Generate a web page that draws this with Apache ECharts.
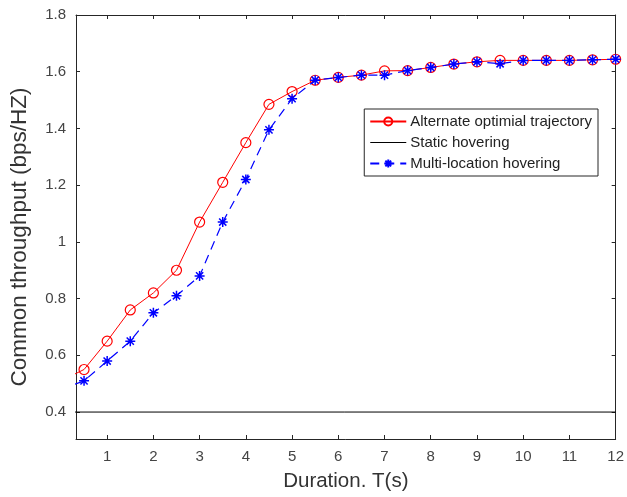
<!DOCTYPE html>
<html>
<head>
<meta charset="utf-8">
<script src="https://cdn.jsdelivr.net/npm/echarts@6/dist/echarts.min.js"></script>
<style>html,body{margin:0;padding:0;background:#fff;}#c{width:627px;height:497px;}</style>
</head>
<body>
<div id="c"></div>
<script>
const durations = [0, 0.5, 1, 1.5, 2, 2.5, 3, 3.5, 4, 4.5, 5, 5.5, 6, 6.5, 7, 7.5, 8, 8.5, 9, 9.5, 10, 10.5, 11, 11.5, 12];
const alternateOptimal = [0.51, 0.55, 0.65, 0.76, 0.82, 0.90, 1.07, 1.21, 1.35, 1.485, 1.53, 1.57, 1.58, 1.588, 1.603, 1.604, 1.615, 1.627, 1.635, 1.64, 1.64, 1.64, 1.64, 1.642, 1.644];
const multiLocation = [0.48, 0.51, 0.58, 0.65, 0.75, 0.81, 0.88, 1.07, 1.22, 1.395, 1.505, 1.57, 1.58, 1.588, 1.588, 1.604, 1.615, 1.627, 1.635, 1.628, 1.64, 1.64, 1.64, 1.642, 1.644];
const staticX = [0, 12];
const staticHovering = [0.4, 0.4];
const xTicks = [1, 2, 3, 4, 5, 6, 7, 8, 9, 10, 11, 12];
const yTicks = [0.4, 0.6, 0.8, 1.0, 1.2, 1.4, 1.6, 1.8];
const seriesNames = ['Alternate optimial trajectory', 'Static hovering', 'Multi-location hovering'];

const pair = (xs, ys) => xs.map((x, i) => [x, ys[i]]);
const star = 'path://M0,-5L0,5M-5,0L5,0M-3.6,-3.6L3.6,3.6M-3.6,3.6L3.6,-3.6';
const thinLine = 'path://M0,0L0.01,0L0.01,0.01L0,0.01ZM0,4.5L36,4.5L36,5.5L0,5.5ZM35.99,10L36,10L36,9.99L35.99,9.99Z';
const font = 'Liberation Sans, Arial, sans-serif';
const axisColor = '#262626';

const chart = echarts.init(document.getElementById('c'), null, {renderer: 'canvas'});
const xBase = {
  type: 'value', min: 0.326, max: 12,
  axisLine: {show: true, onZero: false, lineStyle: {color: axisColor, width: 1}},
  axisTick: {show: true, inside: true, length: 4, customValues: xTicks, lineStyle: {color: axisColor}},
  splitLine: {show: false}
};
const yBase = {
  type: 'value', min: 0.305, max: 1.8,
  axisLine: {show: true, onZero: false, lineStyle: {color: axisColor, width: 1}},
  axisTick: {show: true, inside: true, length: 4, customValues: yTicks, lineStyle: {color: axisColor}},
  splitLine: {show: false}
};
chart.setOption({
  animation: false,
  backgroundColor: '#fff',
  grid: {left: 75, right: 11, top: 15, bottom: 55, containLabel: false},
  xAxis: [
    Object.assign({}, xBase, {
      position: 'bottom',
      name: 'Duration. T(s)', nameLocation: 'middle', nameGap: 32,
      nameTextStyle: {fontFamily: font, fontSize: 20.5, color: '#333'},
      axisLabel: {show: true, customValues: xTicks, fontFamily: font, fontSize: 15, color: '#444', margin: 10, formatter: v => String(Math.round(v))}
    }),
    Object.assign({}, xBase, {position: 'top', axisLabel: {show: false}})
  ],
  yAxis: [
    Object.assign({}, yBase, {
      position: 'left',
      name: 'Common throughput (bps/HZ)', nameLocation: 'middle', nameGap: 45, nameRotate: 90,
      nameTextStyle: {fontFamily: font, fontSize: 22.5, color: '#333', padding: [0, 20, 0, 0]},
      axisLabel: {show: true, customValues: yTicks, fontFamily: font, fontSize: 15, color: '#444', margin: 10,
        formatter: v => { const r = Math.round(v * 10) / 10; return r === 1 ? '1' : r.toFixed(1); }}
    }),
    Object.assign({}, yBase, {position: 'right', axisLabel: {show: false}})
  ],
  legend: {
    show: true,
    right: 29, top: 109,
    orient: 'vertical',
    itemWidth: 36, itemHeight: 10, itemGap: 6,
    padding: [5, 6, 5, 5],
    backgroundColor: '#fff',
    borderColor: '#262626', borderWidth: 1, borderRadius: 0,
    textStyle: {fontFamily: font, fontSize: 15, color: '#222', padding: [0, 0, 0, -1]},
    data: [seriesNames[0], {name: seriesNames[1], icon: thinLine}, seriesNames[2]]
  },
  series: [
    {
      name: seriesNames[0], type: 'line', data: pair(durations, alternateOptimal),
      clip: true, symbol: 'circle', symbolSize: 10, showSymbol: true,
      lineStyle: {color: '#ff0000', width: 1},
      itemStyle: {color: 'rgba(0,0,0,0)', borderColor: '#ff0000', borderWidth: 1.2},
      z: 2
    },
    {
      name: seriesNames[1], type: 'line', data: pair(staticX, staticHovering),
      symbol: 'none', lineStyle: {color: '#000', width: 1}, itemStyle: {color: '#000'}, z: 2
    },
    {
      name: seriesNames[2], type: 'line', data: pair(durations, multiLocation),
      clip: true, symbol: star, symbolSize: 10, showSymbol: true,
      lineStyle: {color: '#0000ff', width: 1.2, type: [9, 6]},
      itemStyle: {color: 'rgba(0,0,0,0)', borderColor: '#0000ff', borderWidth: 1.5},
      z: 3
    }
  ]
});
</script>
</body>
</html>
